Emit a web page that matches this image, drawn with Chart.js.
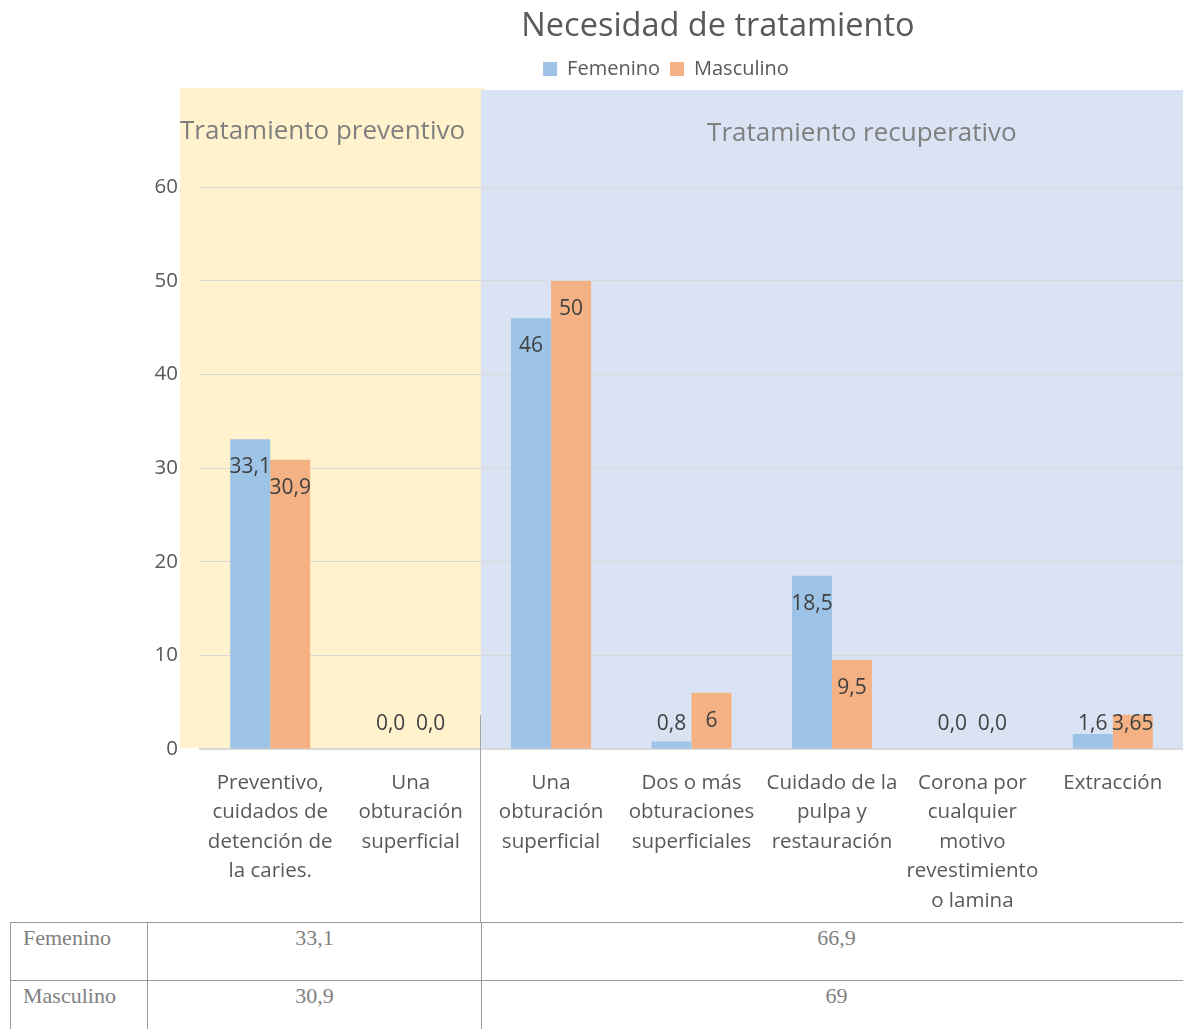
<!DOCTYPE html>
<html>
<head>
<meta charset="utf-8">
<script src="https://cdn.jsdelivr.net/npm/chart.js@4.4.1/dist/chart.umd.min.js"></script>
<style>
    html, body { margin: 0; padding: 0; background: #fff; overflow: hidden; }
    #wrap { position: relative; width: 1183px; height: 1029px; }
    #chart-box { position: absolute; left: 0; top: 0; width: 1183px; height: 922px; }
    #totals {
        position: absolute; left: 10px; top: 922px; width: 1190px;
        border-collapse: collapse; font-family: "Liberation Serif", "DejaVu Serif", serif;
        font-size: 22px; color: #808080;
    }
    #totals td { border: 1px solid #999; vertical-align: top; padding: 2px 0 0 0; }
    #totals td.name { width: 124px; padding-left: 12px; }
    #totals td.pre { width: 333px; text-align: center; }
    #totals td.rec { text-align: center; padding-right: 8px; }
    #totals tr td { height: 55px; }
</style>
</head>
<body>
<div id="wrap">
    <div id="chart-box"><canvas id="c"></canvas></div>
    <table id="totals"></table>
</div>
<script>
const categories = [
    ['Preventivo,', 'cuidados de', 'detención de', 'la caries.'],
    ['Una', 'obturación', 'superficial'],
    ['Una', 'obturación', 'superficial'],
    ['Dos o más', 'obturaciones', 'superficiales'],
    ['Cuidado de la', 'pulpa y', 'restauración'],
    ['Corona por', 'cualquier', 'motivo', 'revestimiento', 'o lamina'],
    ['Extracción']
];
const femenino = [33.1, 0, 46, 0.8, 18.5, 0, 1.6];
const masculino = [30.9, 0, 50, 6, 9.5, 0, 3.65];

// grupos de tratamiento: nombre y cuántas categorías abarca
const groupNames = ['Tratamiento preventivo', 'Tratamiento recuperativo'];
const groupSizes = [2, 5];
const groupTotalsFem = ['33,1', '66,9'];
const groupTotalsMasc = ['30,9', '69'];

const yTicks = [0, 10, 20, 30, 40, 50, 60];

const TEXT = '#595959';
const FONT = '"Open Sans", "Noto Sans", sans-serif';

function fmt(v) {
    if (v === 0) return '0,0';
    return String(v).replace('.', ',');
}

function groupEdge(x) {
    const step = x.getPixelForValue(1) - x.getPixelForValue(0);
    return x.getPixelForValue(groupSizes[0] - 1) + step / 2;
}

// fondos de los grupos con su nombre; se pintan antes de la rejilla
const groupBands = {
    id: 'groupBands',
    beforeDraw(chart) {
        const { ctx, chartArea, scales: { x } } = chart;
        const edge = groupEdge(x);
        const left = chartArea.left - 20;
        const bottom = chartArea.bottom - 1;
        ctx.save();
        ctx.fillStyle = '#FFF2CC';
        ctx.fillRect(left, chartArea.top - 1, edge + 4 - left, bottom - chartArea.top + 1);
        ctx.fillStyle = '#DAE3F3';
        ctx.fillRect(edge, chartArea.top + 1, chartArea.right - edge, bottom - chartArea.top - 1);

        ctx.font = '26px ' + FONT;
        ctx.fillStyle = '#7F7F7F';
        ctx.textBaseline = 'middle';
        ctx.textAlign = 'left';
        ctx.fillText(groupNames[0], left, chartArea.top + 43);
        ctx.textAlign = 'center';
        ctx.fillText(groupNames[1], (edge + chartArea.right) / 2 + 30, chartArea.top + 45);
        ctx.restore();
    },
    afterDraw(chart) {
        const { ctx, chartArea, scales: { x } } = chart;
        const edge = Math.round(groupEdge(x)) - 0.5;
        ctx.save();
        ctx.strokeStyle = '#A6A6A6';
        ctx.lineWidth = 1;
        ctx.beginPath();
        ctx.moveTo(edge, chartArea.bottom - 34);
        ctx.lineTo(edge, chart.height);
        ctx.stroke();

        // título
        ctx.font = '32.5px ' + FONT;
        ctx.fillStyle = TEXT;
        ctx.textAlign = 'center';
        ctx.textBaseline = 'middle';
        ctx.fillText('Necesidad de tratamiento', 718, 27);
        ctx.restore();
    }
};

// etiquetas de valor dentro de las barras
const barLabels = {
    id: 'barLabels',
    afterDatasetsDraw(chart) {
        const { ctx, scales: { y } } = chart;
        const zeroY = y.getPixelForValue(0);
        ctx.save();
        ctx.font = '21px ' + FONT;
        ctx.fillStyle = '#404040';
        ctx.textAlign = 'center';
        ctx.textBaseline = 'middle';
        chart.data.datasets.forEach((ds, i) => {
            chart.getDatasetMeta(i).data.forEach((bar, j) => {
                const ly = Math.min(bar.y + 28, zeroY - 25);
                ctx.fillText(fmt(ds.data[j]), bar.x, ly);
            });
        });
        ctx.restore();
    }
};

new Chart(document.getElementById('c'), {
    type: 'bar',
    data: {
        labels: categories,
        datasets: [
            { label: 'Femenino', data: femenino, backgroundColor: '#9DC3E6' },
            { label: 'Masculino', data: masculino, backgroundColor: '#F4B183' }
        ]
    },
    options: {
        responsive: true,
        maintainAspectRatio: false,
        animation: false,
        layout: { padding: { top: 49, left: 149, right: 0, bottom: 0 } },
        datasets: { bar: { categoryPercentage: 0.57, barPercentage: 1 } },
        plugins: {
            title: { display: false },
            tooltip: { enabled: false },
            legend: {
                position: 'top',
                labels: {
                    boxWidth: 14, boxHeight: 14, padding: 10,
                    color: TEXT, font: { family: FONT, size: 20 }
                }
            }
        },
        scales: {
            x: {
                grid: { display: false },
                border: { display: true, color: '#D9D9D9', width: 2 },
                ticks: { color: TEXT, font: { family: FONT, size: 20.5, lineHeight: 1.44 }, padding: 11, maxRotation: 0, autoSkip: false },
                afterFit(s) { s.height = 173; }
            },
            y: {
                min: 0, max: 70.5,
                afterBuildTicks(s) { s.ticks = yTicks.map(v => ({ value: v })); },
                grid: { color: '#D9D9D9', drawTicks: false },
                border: { display: false },
                ticks: { color: TEXT, font: { family: FONT, size: 20.5 }, padding: 22 },
                afterFit(s) { s.width = 51; }
            }
        }
    },
    plugins: [groupBands, barLabels]
});

// tabla de totales por grupo
const table = document.getElementById('totals');
[['Femenino', groupTotalsFem], ['Masculino', groupTotalsMasc]].forEach(([name, vals]) => {
    const tr = table.insertRow();
    const a = tr.insertCell(); a.className = 'name'; a.textContent = name;
    const b = tr.insertCell(); b.className = 'pre'; b.textContent = vals[0];
    const c = tr.insertCell(); c.className = 'rec'; c.textContent = vals[1];
});
</script>
</body>
</html>
